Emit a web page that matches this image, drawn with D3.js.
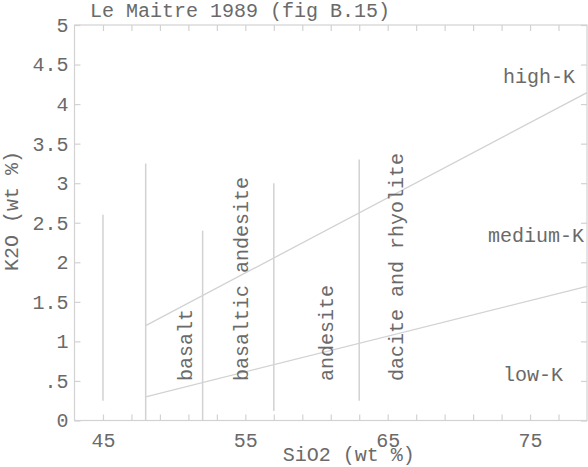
<!DOCTYPE html>
<html>
<head>
<meta charset="utf-8">
<script src="https://cdn.jsdelivr.net/npm/d3@7"></script>
<style>
  html, body { margin: 0; padding: 0; background: #fff; }
  svg { display: block; }
  text { font-family: "Liberation Mono", "Courier New", monospace; font-size: 20px; fill: #6a6a6a; }
</style>
</head>
<body>
<svg id="chart" width="588" height="467"></svg>
<script>
// ---- data ----
const titleText = "Le Maitre 1989 (fig B.15)";
const xAxisLabel = "SiO2  (wt %)";
const yAxisLabel = "K2O  (wt %)";
const xDomain = [43, 79];
const yDomain = [0, 5];
const xTicks = [45, 47, 49, 51, 53, 55, 57, 59, 61, 63, 65, 67, 69, 71, 73, 75, 77];
const xTickLabels = [45, 55, 65, 75];
const yTicks = [0, 0.5, 1, 1.5, 2, 2.5, 3, 3.5, 4, 4.5, 5];
const yTickLabels = ["0", ".5", "1", "1.5", "2", "2.5", "3", "3.5", "4", "4.5", "5"];

// SiO2 divider lines (x) with their K2O extent
const dividerSiO2 = [45, 48, 52, 57, 63];
const dividerBottomK2O = [0.25, 0, 0, 0.12, 0.25];
const dividerTopK2O = [2.6, 3.25, 2.4, 3.0, 3.3];

// K-series boundary lines
const boundaryNames = ["low/medium-K", "medium/high-K"];
const boundarySiO2 = [48, 79];
const boundaryLowK2O = [0.3, 1.695];
const boundaryHighK2O = [1.2, 4.145];

// rock names (vertical labels)
const rockNames = ["basalt", "basaltic andesite", "andesite", "dacite and rhyolite"];
const rockSiO2 = [51.25, 55.2, 61.15, 66.1];
const rockK2O = [0.5, 0.5, 0.5, 0.5];

// series names
const seriesNames = ["high-K", "medium-K", "low-K"];
const seriesSiO2 = [73.1, 72.05, 73.1];
const seriesK2O = [4.35, 2.34, 0.59];

// ---- drawing ----
(function () {
const svg = d3.select("#chart");
const lineColor = "#d2d2d2";
const pL = 74.5, pR = 587, pT = 25, pB = 420.5;

const x = d3.scaleLinear().domain(xDomain).range([pL, pR]);
const y = d3.scaleLinear().domain(yDomain).range([pB, pT]);

// frame
svg.append("rect")
  .attr("x", pL).attr("y", pT)
  .attr("width", pR - pL).attr("height", pB - pT)
  .attr("fill", "none").attr("stroke", lineColor).attr("stroke-width", 1.2);

function styleAxis(g) {
  g.select(".domain").remove();
  g.selectAll(".tick line").attr("stroke", lineColor).attr("stroke-width", 1.2);
  g.selectAll(".tick text").style("font-family", "Liberation Mono, Courier New, monospace")
    .style("font-size", "20px").attr("fill", "#6a6a6a");
}

// bottom
svg.append("g").attr("transform", `translate(0,${pB})`)
  .call(d3.axisBottom(x).tickValues(xTicks).tickSizeInner(-6).tickSizeOuter(0).tickPadding(12)
    .tickFormat(d => xTickLabels.includes(d) ? String(d) : ""))
  .call(styleAxis);
// top
svg.append("g").attr("transform", `translate(0,${pT})`)
  .call(d3.axisTop(x).tickValues(xTicks).tickSizeInner(-6).tickSizeOuter(0).tickFormat(""))
  .call(styleAxis);
// left
svg.append("g").attr("transform", `translate(${pL},0)`)
  .call(d3.axisLeft(y).tickValues(yTicks).tickSizeInner(-6).tickSizeOuter(0).tickPadding(6)
    .tickFormat((d, i) => yTickLabels[i]))
  .call(styleAxis);
// right
svg.append("g").attr("transform", `translate(${pR},0)`)
  .call(d3.axisRight(y).tickValues(yTicks).tickSizeInner(-6).tickSizeOuter(0).tickFormat(""))
  .call(styleAxis);

// divider lines
svg.append("g").selectAll("line").data(dividerSiO2).join("line")
  .attr("x1", d => x(d)).attr("x2", d => x(d))
  .attr("y1", (d, i) => y(dividerBottomK2O[i]))
  .attr("y2", (d, i) => y(dividerTopK2O[i]))
  .attr("stroke", lineColor).attr("stroke-width", 1.5);

// boundary lines
const boundaryData = [boundaryLowK2O, boundaryHighK2O];
const line = d3.line().x((d, i) => x(boundarySiO2[i])).y(d => y(d));
svg.append("g").selectAll("path").data(boundaryData).join("path")
  .attr("d", d => line(d))
  .attr("fill", "none").attr("stroke", lineColor).attr("stroke-width", 1.3);

// rock names
svg.append("g").selectAll("text").data(rockNames).join("text")
  .attr("transform", (d, i) => `translate(${x(rockSiO2[i])},${y(rockK2O[i])}) rotate(-90)`)
  .attr("text-anchor", "start")
  .text(d => d);

// series names
svg.append("g").selectAll("text").data(seriesNames).join("text")
  .attr("x", (d, i) => x(seriesSiO2[i]))
  .attr("y", (d, i) => y(seriesK2O[i]))
  .attr("dy", "0.35em")
  .attr("text-anchor", "start")
  .text(d => d);

// title
svg.append("text").attr("x", 90).attr("y", 17).text(titleText);

// axis labels
svg.append("text").attr("x", (pL + pR) / 2 + 18).attr("y", 461)
  .attr("text-anchor", "middle").text(xAxisLabel);
svg.append("text").attr("transform", `translate(18,211) rotate(-90)`)
  .attr("text-anchor", "middle").text(yAxisLabel);
})();
</script>
</body>
</html>
